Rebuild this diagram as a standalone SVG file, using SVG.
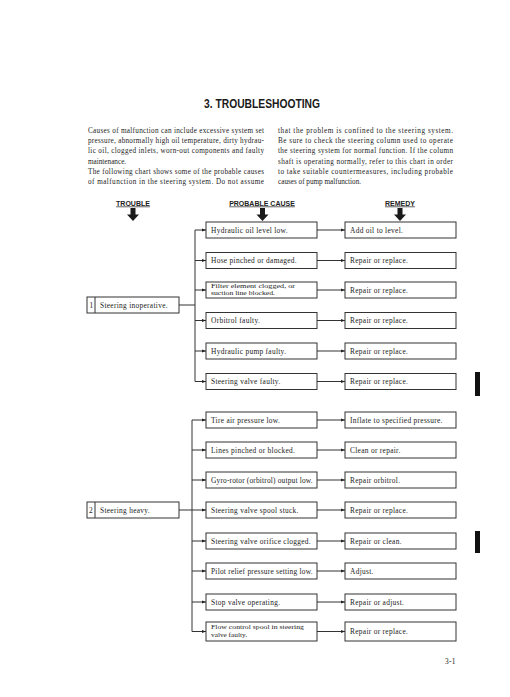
<svg xmlns="http://www.w3.org/2000/svg" width="510" height="697" viewBox="0 0 510 697">
<style>
.bg{fill:#fff}
.t{font-family:"Liberation Serif","Times New Roman",serif;font-size:7.4px;letter-spacing:0.3px;fill:#222}
.b{font-family:"Liberation Serif","Times New Roman",serif;font-size:7.2px;fill:#222}
.s{font-family:"Liberation Serif","Times New Roman",serif;font-size:6.3px;fill:#222}
.h{font-family:"Liberation Sans",Arial,sans-serif;font-size:7px;font-weight:bold;fill:#222;text-decoration:underline}
.title{font-family:"Liberation Sans",Arial,sans-serif;font-size:13px;font-weight:bold;fill:#1a1a1a}
.box{fill:#fff;stroke:#333;stroke-width:1}
.ln{fill:none;stroke:#333;stroke-width:1}
.arr{fill:#1a1a1a}
</style>
<defs>
<marker id="ah" viewBox="0 0 6 6" refX="6" refY="3" markerWidth="4" markerHeight="4" orient="auto" markerUnits="userSpaceOnUse">
<path d="M0,0.8 L6,3 L0,5.2 Z" fill="#222"/>
</marker>
</defs>
<rect class="bg" x="0" y="0" width="510" height="697"/>

<text class="title" x="204" y="108" textLength="116" lengthAdjust="spacingAndGlyphs">3. TROUBLESHOOTING</text>

<g id="intro">
<text class="b" x="88" y="133" textLength="176" lengthAdjust="spacing">Causes of malfunction can include excessive system set</text>
<text class="b" x="88" y="143.2" textLength="176" lengthAdjust="spacing">pressure, abnormally high oil temperature, dirty hydrau-</text>
<text class="b" x="88" y="153.4" textLength="176" lengthAdjust="spacing">lic oil, clogged inlets, worn-out components and faulty</text>
<text class="b" x="88" y="163.6">maintenance.</text>
<text class="b" x="88" y="173.8" textLength="176" lengthAdjust="spacing">The following chart shows some of the probable causes</text>
<text class="b" x="88" y="184" textLength="176" lengthAdjust="spacing">of malfunction in the steering system.  Do not assume</text>
<text class="b" x="278" y="133" textLength="175" lengthAdjust="spacing">that the problem is confined to the steering system.</text>
<text class="b" x="278" y="143.2" textLength="175" lengthAdjust="spacing">Be sure to check the steering column used to operate</text>
<text class="b" x="278" y="153.4" textLength="175" lengthAdjust="spacing">the steering system for normal function.  If the column</text>
<text class="b" x="278" y="163.6" textLength="175" lengthAdjust="spacing">shaft is operating normally, refer to this chart in order</text>
<text class="b" x="278" y="173.8" textLength="175" lengthAdjust="spacing">to take suitable countermeasures, including probable</text>
<text class="b" x="278" y="184">causes of pump malfunction.</text>
</g>

<g id="headers">
<text class="h" x="133" y="205.5" text-anchor="middle">TROUBLE</text>
<text class="h" x="262" y="205.5" text-anchor="middle">PROBABLE CAUSE</text>
<text class="h" x="400" y="205.5" text-anchor="middle">REMEDY</text>
<path class="arr" d="M130.5,208 H135.5 V214.5 H139 L133,221 L127,214.5 H130.5 Z"/>
<path class="arr" d="M260,208 H265 V214.5 H268.5 L262.5,221 L256.5,214.5 H260 Z"/>
<path class="arr" d="M397.5,208 H402.5 V214.5 H406 L400,221 L394,214.5 H397.5 Z"/>
</g>

<g id="connectors">
<path class="ln" d="M195,230 V381.5"/>
<path class="ln" d="M179,305 H195"/>
<path class="ln" d="M195,230 H206" marker-end="url(#ah)"/>
<path class="ln" d="M195,260.5 H206" marker-end="url(#ah)"/>
<path class="ln" d="M195,290 H206" marker-end="url(#ah)"/>
<path class="ln" d="M195,320.5 H206" marker-end="url(#ah)"/>
<path class="ln" d="M195,351 H206" marker-end="url(#ah)"/>
<path class="ln" d="M195,381.5 H206" marker-end="url(#ah)"/>
<path class="ln" d="M317,230 H345" marker-end="url(#ah)"/>
<path class="ln" d="M317,260.5 H345" marker-end="url(#ah)"/>
<path class="ln" d="M317,290 H345" marker-end="url(#ah)"/>
<path class="ln" d="M317,320.5 H345" marker-end="url(#ah)"/>
<path class="ln" d="M317,351 H345" marker-end="url(#ah)"/>
<path class="ln" d="M317,381.5 H345" marker-end="url(#ah)"/>

<path class="ln" d="M192,420 V631.5"/>
<path class="ln" d="M179,510 H192"/>
<path class="ln" d="M192,420 H206" marker-end="url(#ah)"/>
<path class="ln" d="M192,450 H206" marker-end="url(#ah)"/>
<path class="ln" d="M192,480 H206" marker-end="url(#ah)"/>
<path class="ln" d="M192,510 H206" marker-end="url(#ah)"/>
<path class="ln" d="M192,541 H206" marker-end="url(#ah)"/>
<path class="ln" d="M192,571 H206" marker-end="url(#ah)"/>
<path class="ln" d="M192,602 H206" marker-end="url(#ah)"/>
<path class="ln" d="M192,631.5 H206" marker-end="url(#ah)"/>
<path class="ln" d="M317,420 H345" marker-end="url(#ah)"/>
<path class="ln" d="M317,450 H345" marker-end="url(#ah)"/>
<path class="ln" d="M317,480 H345" marker-end="url(#ah)"/>
<path class="ln" d="M317,510 H345" marker-end="url(#ah)"/>
<path class="ln" d="M317,541 H345" marker-end="url(#ah)"/>
<path class="ln" d="M317,571 H345" marker-end="url(#ah)"/>
<path class="ln" d="M317,602 H345" marker-end="url(#ah)"/>
<path class="ln" d="M317,631.5 H345" marker-end="url(#ah)"/>
</g>

<g id="trouble1"><rect class="box" x="87" y="297" width="92" height="16"/><line class="ln" x1="95" y1="297" x2="95" y2="313"/><text class="t" x="89.5" y="307.5">1</text><text class="t" x="100" y="307.5">Steering inoperative.</text></g>
<g id="trouble2"><rect class="box" x="87" y="502" width="92" height="16"/><line class="ln" x1="95" y1="502" x2="95" y2="518"/><text class="t" x="89" y="512.5">2</text><text class="t" x="100" y="512.5">Steering heavy.</text></g>

<g id="c1"><rect class="box" x="206" y="222" width="111" height="16"/><text class="t" x="211" y="232.5">Hydraulic oil level low.</text></g>
<g id="r1"><rect class="box" x="345" y="222" width="111" height="16"/><text class="t" x="350" y="232.5">Add oil to level.</text></g>
<g id="c2"><rect class="box" x="206" y="252.5" width="111" height="16"/><text class="t" x="211" y="263">Hose pinched or damaged.</text></g>
<g id="r2"><rect class="box" x="345" y="252.5" width="111" height="16"/><text class="t" x="350" y="263">Repair or replace.</text></g>
<g id="c3"><rect class="box" x="206" y="282" width="111" height="16"/><text class="s" x="211" y="288" textLength="84" lengthAdjust="spacingAndGlyphs">Filter element clogged, or</text><text class="s" x="211" y="295.4" textLength="64" lengthAdjust="spacingAndGlyphs">suction line blocked.</text></g>
<g id="r3"><rect class="box" x="345" y="282" width="111" height="16"/><text class="t" x="350" y="292.5">Repair or replace.</text></g>
<g id="c4"><rect class="box" x="206" y="312.5" width="111" height="16"/><text class="t" x="211" y="323">Orbitrol faulty.</text></g>
<g id="r4"><rect class="box" x="345" y="312.5" width="111" height="16"/><text class="t" x="350" y="323">Repair or replace.</text></g>
<g id="c5"><rect class="box" x="206" y="343" width="111" height="16"/><text class="t" x="211" y="353.5">Hydraulic pump faulty.</text></g>
<g id="r5"><rect class="box" x="345" y="343" width="111" height="16"/><text class="t" x="350" y="353.5">Repair or replace.</text></g>
<g id="c6"><rect class="box" x="206" y="373.5" width="111" height="16"/><text class="t" x="211" y="384">Steering valve faulty.</text></g>
<g id="r6"><rect class="box" x="345" y="373.5" width="111" height="16"/><text class="t" x="350" y="384">Repair or replace.</text></g>

<g id="c7"><rect class="box" x="206" y="412" width="111" height="16"/><text class="t" x="211" y="422.5">Tire air pressure low.</text></g>
<g id="r7"><rect class="box" x="345" y="412" width="111" height="16"/><text class="t" x="350" y="422.5">Inflate to specified pressure.</text></g>
<g id="c8"><rect class="box" x="206" y="442" width="111" height="16"/><text class="t" x="211" y="452.5">Lines pinched or blocked.</text></g>
<g id="r8"><rect class="box" x="345" y="442" width="111" height="16"/><text class="t" x="350" y="452.5">Clean or repair.</text></g>
<g id="c9"><rect class="box" x="206" y="472" width="111" height="16"/><text class="t" x="211" y="482.5" textLength="102" lengthAdjust="spacing">Gyro-rotor (orbitrol) output low.</text></g>
<g id="r9"><rect class="box" x="345" y="472" width="111" height="16"/><text class="t" x="350" y="482.5">Repair orbitrol.</text></g>
<g id="c10"><rect class="box" x="206" y="502" width="111" height="16"/><text class="t" x="211" y="512.5">Steering valve spool stuck.</text></g>
<g id="r10"><rect class="box" x="345" y="502" width="111" height="16"/><text class="t" x="350" y="512.5">Repair or replace.</text></g>
<g id="c11"><rect class="box" x="206" y="533" width="111" height="16"/><text class="t" x="211" y="543.5">Steering valve orifice clogged.</text></g>
<g id="r11"><rect class="box" x="345" y="533" width="111" height="16"/><text class="t" x="350" y="543.5">Repair or clean.</text></g>
<g id="c12"><rect class="box" x="206" y="563" width="111" height="16"/><text class="t" x="211" y="573.5" textLength="102" lengthAdjust="spacing">Pilot relief pressure setting low.</text></g>
<g id="r12"><rect class="box" x="345" y="563" width="111" height="16"/><text class="t" x="350" y="573.5">Adjust.</text></g>
<g id="c13"><rect class="box" x="206" y="594" width="111" height="16"/><text class="t" x="211" y="604.5">Stop valve operating.</text></g>
<g id="r13"><rect class="box" x="345" y="594" width="111" height="16"/><text class="t" x="350" y="604.5">Repair or adjust.</text></g>
<g id="c14"><rect class="box" x="206" y="622" width="111" height="19"/><text class="s" x="211" y="629" textLength="93" lengthAdjust="spacingAndGlyphs">Flow control spool in steering</text><text class="s" x="211" y="636.6" textLength="36" lengthAdjust="spacingAndGlyphs">valve faulty.</text></g>
<g id="r14"><rect class="box" x="345" y="622" width="111" height="19"/><text class="t" x="350" y="634">Repair or replace.</text></g>

<rect x="475" y="372" width="5" height="24" fill="#111"/>
<rect x="475" y="531" width="5" height="22" fill="#111"/>
<text class="t" x="445" y="664">3-1</text>
</svg>
